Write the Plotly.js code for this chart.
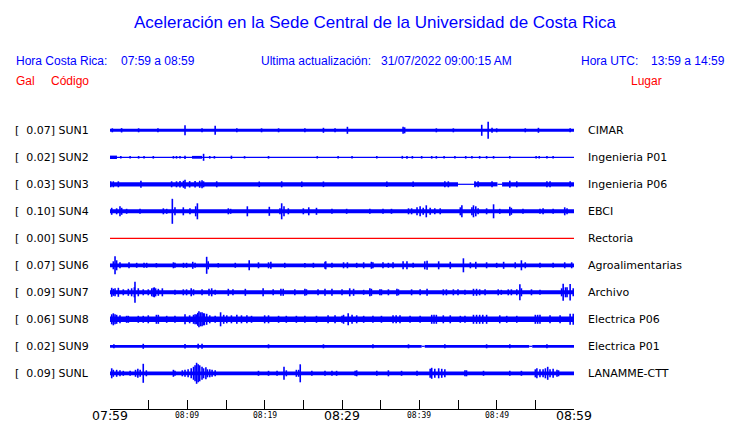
<!DOCTYPE html>
<html>
<head>
<meta charset="utf-8">
<script src="https://cdn.plot.ly/plotly-3.0.1.min.js"></script>
<style>html,body{margin:0;padding:0;background:#fff;}#chart{width:740px;height:423px;}</style>
</head>
<body>
<div id="chart"></div>
<script>
// ---------------- DATA ----------------
const stationCodes = ['SUN1','SUN2','SUN3','SUN4','SUN5','SUN6','SUN7','SUN8','SUN9','SUNL'];
const stationPlaces = ['CIMAR','Ingenieria P01','Ingenieria P06','EBCI','Rectoria','Agroalimentarias','Archivo','Electrica P06','Electrica P01','LANAMME-CTT'];
const peakGal = [0.07, 0.02, 0.03, 0.10, 0.00, 0.07, 0.09, 0.06, 0.02, 0.09];

// time axis: minutes after 07:59
const tickMinutes = [0,5,10,15,20,25,30,35,40,45,50,55,60];
const labelMinutes = [0,10,20,30,40,50,60];
const labelTexts = ['07:59','08:09','08:19','08:29','08:39','08:49','08:59'];
const labelMajor = [true,false,false,true,false,false,true];

// background noise band of each record: [fromMinute, toMinute, halfAmplitude]
const sun1Band = [[0,60,1.5]];
const sun2Band = [[0,60,0.6],[0,0.9,1.7],[10.6,11.9,1.4]];
const sun3Band = [[0,45.0,2.1],[45.0,47.1,0.6],[47.1,50.1,2.1],[50.1,50.7,0.6],[50.7,60,2.1]];
const sun4Band = [[0,60,2.0]];
const sun5Band = [[0,60,0.6]];
const sun6Band = [[0,60,1.9]];
const sun7Band = [[0,60,2.0]];
const sun8Band = [[0,60,2.7]];
const sun9Band = [[0,40.3,1.4],[40.3,40.7,0.6],[40.7,54.2,1.4],[54.2,54.6,0.6],[54.6,60,1.4]];
const sunLBand = [[0,60,1.9]];

// transient peaks of each record: [minute, halfAmplitude]
const sun1Spikes = [[0.3,2],[1.5,2.2],[3.7,2],[6.2,2],[9.7,5],[11.9,2],[13.6,4.5],[16.4,2],[19.6,2],[21.8,2],[25.2,2],[27.6,2.5],[29.1,2],
  [30.7,3.5],[37.9,3.5],[38.1,3],[42.2,2],[44.4,2],[48.07,5.5],[48.9,8.5],[49.4,2.5],[50.0,2],[53.7,2],[55.4,2.5],[59.5,2]];
const sun2Spikes = [[1.4,1.2],[2.6,1.2],[3.7,1.3],[4.4,1.3],[5.6,1.3],[8.2,1.3],[8.6,1.3],[9.05,1.3],[9.7,1.6],[12.1,3.5],[12.9,1.3],[13.5,1.3],
  [15.7,1.6],[17.4,1.2],[20.5,1.3],[26.8,1.2],[29.5,1.2],[31.3,1.2],[34.5,1.2],[37.8,1.4],[38.4,1.4],[39.1,1.3],[40.3,1.3],[41.6,1.3],
  [42.2,1.3],[43.2,1.3],[44.6,1.3],[46.0,1.3],[46.8,1.3],[47.8,1.3],[48.7,1.3],[49.6,1.3],[51.7,1.3],[55.1,1.3],[55.5,1.3],[56.5,1.3],[57.3,1.3]];
const sun3Spikes = [[0.1,3],[0.43,3],[1.08,3],[4.0,3.5],[7.97,3],[8.6,3],[9.05,3.2],[9.5,3.5],[9.7,4.5],[10.3,3.2],[11.0,3.2],[11.6,3.5],[11.9,4],
  [12.1,3],[13.8,3],[19.3,2.8],[22.2,3],[24.8,2.8],[27.6,2.8],[35.8,2.8],[39.2,2.8],[43.3,3],[43.75,3],[47.2,3],[47.6,3],[49.4,3],
  [51.7,3.5],[52.6,3],[56.5,3],[56.9,3],[59.5,3]];
const sun4Spikes = [[0.22,3.5],[0.86,3],[1.29,5],[1.51,3.5],[2.15,2.5],[3.88,2.5],[6.9,3],[7.33,2.5],[8.06,12.5],[8.4,4],[9.48,4],[10.34,3],
  [11.08,5],[11.3,8],[15.3,3],[15.6,2.5],[17.76,5],[20.6,4.5],[21.98,3],[22.2,8],[22.5,5],[23.06,3],[25.0,3],[25.7,4],[26.7,3.5],[28.7,2.5],
  [30.6,2.5],[33.6,2.5],[35.3,2.5],[36.4,2.5],[38.6,3],[39.0,3],[39.7,4],[40.1,5],[40.5,3.5],[40.9,6],[41.4,3.5],[42.0,3],[42.7,3],
  [45.3,4],[45.5,6],[46.8,4],[47.0,6],[47.3,5],[47.6,3],[48.7,3],[49.6,7],[50.4,2.5],[51.7,4.5],[51.9,3.5],[53.4,2.5],[55.6,2.5],[56.0,3],
  [57.3,2.5],[58.8,4],[59.1,3]];
const sun5Spikes = [];
const sun6Spikes = [[0.43,4],[0.65,9],[0.86,5],[1.29,3],[2.46,3],[3.45,2.5],[4.4,2.5],[4.74,2.5],[6.0,2.2],[8.2,3],[8.4,2.5],[9.5,2.5],[9.9,2.5],
  [10.7,3.5],[11.0,2.5],[12.5,8.5],[12.7,4],[14.0,2.2],[16.2,2.5],[18.0,5],[19.2,3],[20.5,3],[20.8,3.5],[22.6,2.5],[25.2,2.2],[26.3,2.5],
  [27.8,3.5],[27.9,4],[28.7,2.5],[30.2,3],[30.7,3],[31.9,2.5],[32.8,3],[33.8,3.5],[34.0,3],[35.3,3],[36.0,2.5],[36.6,3],[37.9,4],[38.4,4],
  [39.2,2.5],[40.7,4],[41.0,4.5],[42.5,4],[44.0,3.5],[45.7,7],[46.6,3],[47.3,3.5],[48.7,3],[50.0,2.5],[50.9,3.5],[52.4,3],[53.2,5],[53.7,3],
  [55.6,2.5],[57.3,2.5],[58.8,3],[59.7,3]];
const sun7Spikes = [[0.22,4.5],[0.43,3.5],[0.65,4],[1.08,4.5],[1.72,3],[2.37,3.5],[2.8,4],[3.15,5],[3.23,10.5],[3.66,4],[4.3,3],[4.95,3],[5.4,4],
  [5.6,4.5],[5.73,5],[5.9,4],[6.25,3.5],[6.77,4],[8.4,2.5],[9.48,3],[9.9,3],[10.5,4],[10.8,3],[11.9,3],[12.8,3.5],[13.15,4],[13.6,2.5],
  [15.3,3.5],[15.9,3],[17.5,3.5],[19.8,4],[21.1,3],[22.1,3.5],[22.4,3.5],[23.9,3],[25.2,3.5],[25.4,3],[26.9,3],[27.8,3.5],[28.7,3.5],[30.0,3],
  [31.0,4],[31.5,3.5],[32.8,2.5],[33.6,4],[33.8,3.5],[34.9,3],[35.1,3],[36.0,3],[37.1,3.5],[37.3,3],[39.0,3],[40.1,3],[41.0,3.5],[43.1,3],
  [43.5,3],[44.4,3],[45.0,3],[45.9,2.5],[47.0,3.5],[47.4,3.5],[47.8,3],[48.5,3],[50.2,3],[50.6,2.5],[51.5,3],[51.9,3],[52.6,3],[53.0,8],
  [53.2,4],[54.5,3],[55.6,2.5],[58.4,4],[58.6,8.5],[58.9,5],[59.1,5],[59.5,8.3],[59.9,4]];
const sun8Spikes = [[0.22,5],[0.43,6],[0.65,5],[0.86,4.5],[1.29,4],[2.15,3.5],[2.37,3.5],[3.66,3.5],[4.3,3.5],[4.95,4],[6.0,4.5],[6.25,4.5],
  [7.33,3.5],[8.4,3.5],[9.7,5],[10.3,4],[10.8,4.5],[11.0,5],[11.2,5],[11.35,6.5],[11.5,8],[11.7,7],[11.9,7],[12.05,6],[12.2,6],[12.5,5.5],
  [12.9,4],[13.6,3.5],[14.3,7],[14.7,4.5],[15.1,4],[15.7,4],[16.4,4.5],[17.0,4],[17.7,4],[18.3,3.5],[20.0,4],[20.5,4],[21.8,3.5],[22.8,3.5],
  [24.1,3.5],[25.2,3.5],[26.7,3.5],[28.2,4],[29.1,4],[30.0,3.5],[30.2,4.5],[30.8,6],[31.3,4.5],[31.9,4],[32.8,3.5],[34.0,3.5],[35.1,3.5],
  [36.6,4],[37.0,4],[37.5,4],[38.8,3.5],[40.1,3.5],[41.6,4.5],[41.9,4.5],[42.2,4.5],[43.1,4],[44.0,4],[45.3,3.5],[45.9,3.5],[47.0,4.5],
  [47.4,4.5],[47.8,4.5],[48.2,4.5],[48.7,4.5],[50.4,4],[51.3,3.5],[52.6,3.5],[55.0,4.5],[55.3,4.5],[55.6,4.5],[56.9,4],[58.2,4],[59.5,5.5],[59.9,5.5]];
const sun9Spikes = [[0.5,2],[4.3,2.5],[9.7,2.2],[11.4,2.5],[11.9,2.5],[20.5,2],[27.6,2],[34.0,2],[38.6,2],[43.3,2],[48.7,2],[51.7,2],[56.5,2]];
const sunLSpikes = [[0.22,5],[0.43,3.5],[0.86,3.5],[1.29,3],[1.72,2.5],[2.6,2.5],[3.3,3.5],[3.6,4.5],[3.9,3.5],[4.3,9.5],[4.7,3],[8.2,3.5],[8.4,2.5],
  [9.35,3],[9.7,3.5],[10.1,4],[10.5,5],[10.8,6.5],[11.0,8],[11.2,10.5],[11.4,9],[11.6,8],[11.9,6.5],[12.1,5],[12.4,6],[12.6,4],[12.9,4],
  [13.2,3.5],[13.6,3],[19.2,2.5],[20.5,2.5],[21.6,2.5],[22.5,6.5],[22.8,3],[24.1,3.5],[24.4,3.5],[24.6,9],[26.1,2.5],[27.8,2.5],[28.7,2.5],
  [29.3,2.5],[31.7,2.5],[31.9,3],[34.5,2.5],[36.0,3],[37.7,2.5],[39.7,2.5],[41.4,4.5],[41.6,5.5],[42.0,4.5],[42.5,5],[42.9,4.5],[43.3,4],
  [45.9,3],[46.1,3],[48.3,2.5],[51.7,2.5],[53.2,2.5],[55.0,4],[55.2,5],[55.6,4],[56.0,4],[56.3,5],[56.6,6.5],[56.9,4],[57.3,4.5],[57.8,3.5],[58.0,3]];

const allBands = [sun1Band,sun2Band,sun3Band,sun4Band,sun5Band,sun6Band,sun7Band,sun8Band,sun9Band,sunLBand];
const allSpikes = [sun1Spikes,sun2Spikes,sun3Spikes,sun4Spikes,sun5Spikes,sun6Spikes,sun7Spikes,sun8Spikes,sun9Spikes,sunLSpikes];

// ---------------- LAYOUT HELPERS ----------------
const W = 740, H = 423;
const M = {l:110, r:166, t:103, b:14};
const ROW = 27;            // vertical gap between records (y units = px)
const TOP_PAD = 27.3;      // from plot top to first record
const plotH = H - M.t - M.b;
const yTop = TOP_PAD, yBot = TOP_PAD - plotH;
const px = x => (x - M.l) / (W - M.l - M.r);
const py = y => (H - M.b - y) / plotH;
const BLUE = '#0000ff', RED = '#ff0000';

const traces = [];
stationCodes.forEach((code, i) => {
  const c = -i * ROW;
  const color = peakGal[i] > 0 ? BLUE : RED;
  allBands[i].forEach(seg => {
    traces.push({type:'scatter', mode:'lines', x:[seg[0], seg[1]], y:[c, c],
      line:{color:color, width:Math.max(1.2, 2*seg[2])}, hoverinfo:'skip', showlegend:false});
  });
  const sx = [], sy = [];
  allSpikes[i].forEach(s => { sx.push(s[0], s[0], null); sy.push(c - s[1], c + s[1], null); });
  if (sx.length) {
    traces.push({type:'scatter', mode:'lines', x:sx, y:sy,
      line:{color:color, width:1.6}, hoverinfo:'skip', showlegend:false});
  }
});

const annotations = [];
const hdrFont = {family:'"Liberation Sans", Arial, sans-serif', size:12, color:BLUE};
const redFont = {family:'"Liberation Sans", Arial, sans-serif', size:12, color:RED};
function addText(text, x, y, font, anchor) {
  annotations.push({text:text, xref:'paper', yref:'paper', x:px(x), y:py(y), xanchor:anchor||'left', yanchor:'middle',
    showarrow:false, font:font, borderpad:0});
}
addText('Hora Costa Rica:', 14.5, 60.5, hdrFont);
addText('07:59 a 08:59', 119.5, 60.5, hdrFont);
addText('Ultima actualización:', 259.5, 60.5, hdrFont);
addText('31/07/2022 09:00:15 AM', 379.5, 60.5, hdrFont);
addText('Hora UTC:', 579.5, 60.5, hdrFont);
addText('13:59 a 14:59', 649.5, 60.5, hdrFont);
addText('Gal', 14.5, 81, redFont);
addText('Código', 49.5, 81, redFont);
addText('Lugar', 629.5, 81, redFont);

const lblFont = {family:'"DejaVu Sans", sans-serif', size:11, color:'#000'};
stationCodes.forEach((code, i) => {
  const c = -i * ROW;
  annotations.push({text:'[\u00A0\u00A0' + peakGal[i].toFixed(2) + '] ' + code, xref:'paper', yref:'y', x:px(13.5), y:c,
    xanchor:'left', yanchor:'middle', showarrow:false, font:lblFont, borderpad:0});
  annotations.push({text:stationPlaces[i], xref:'paper', yref:'y', x:px(586.5), y:c,
    xanchor:'left', yanchor:'middle', showarrow:false, font:lblFont, borderpad:0});
});

labelMinutes.forEach((m, k) => {
  const major = labelMajor[k];
  annotations.push({text:labelTexts[k], xref:'x', yref:'paper', x:m, y:py(major ? 415 : 415.5),
    xanchor:'center', yanchor:'middle', showarrow:false, borderpad:0,
    font: major ? {family:'"DejaVu Sans", sans-serif', size:12.5, color:'#000'}
                : {family:'"DejaVu Sans Mono", monospace', size:8, color:'#000'}});
});

const layout = {
  width: W, height: H,
  margin: M,
  paper_bgcolor:'#fff', plot_bgcolor:'#fff',
  showlegend:false,
  title:{text:'Aceleración en la Sede Central de la Universidad de Costa Rica', xref:'container', yref:'container',
    x:375/W, y:1 - 22/H, xanchor:'center', yanchor:'middle',
    font:{family:'"Liberation Sans", Arial, sans-serif', size:17, color:BLUE}},
  xaxis:{range:[0,60], showgrid:false, zeroline:false, showline:true, linecolor:'#000', linewidth:1,
    ticks:'inside', ticklen:9, tickwidth:1, tickcolor:'#000', tickmode:'array', tickvals:tickMinutes,
    showticklabels:false, fixedrange:true},
  yaxis:{range:[yBot, yTop], visible:false, fixedrange:true},
  annotations: annotations
};

Plotly.newPlot('chart', traces, layout, {staticPlot:true, displayModeBar:false});
</script>
</body>
</html>
